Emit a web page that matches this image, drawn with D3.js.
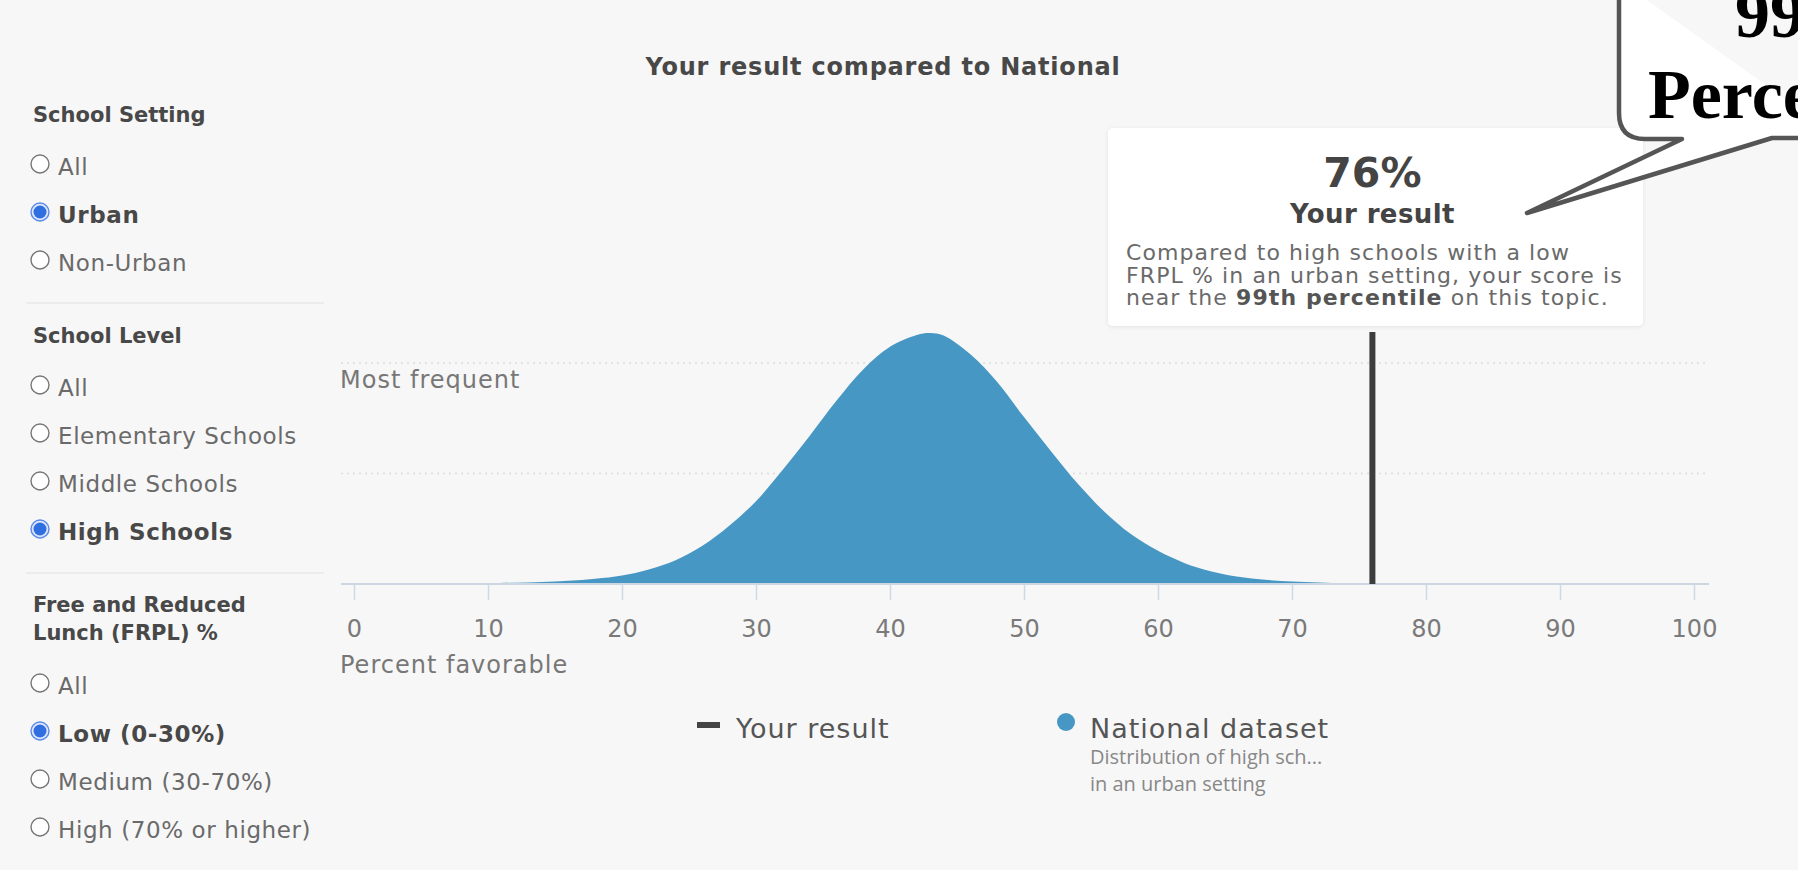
<!DOCTYPE html>
<html>
<head>
<meta charset="utf-8">
<script src="https://cdnjs.cloudflare.com/ajax/libs/d3/7.8.5/d3.min.js"></script>
<style>
  body { margin: 0; background: #f7f7f7; }
</style>
</head>
<body>
<div id="chart"></div>
<script>
// filter panel options
const settingOptions = ["All", "Urban", "Non-Urban"];
const levelOptions = ["All", "Elementary Schools", "Middle Schools", "High Schools"];
const frplOptions = ["All", "Low (0-30%)", "Medium (30-70%)", "High (70% or higher)"];
const selectedOptions = ["Urban", "High Schools", "Low (0-30%)"];

// national distribution (relative frequency)
const percentFavorable = [0, 5, 10, 12, 14, 16, 18, 20, 22, 24, 26, 28, 30, 32, 34, 36, 38, 40, 42, 43, 44, 46, 48, 50, 52, 54, 56, 58, 60, 62, 64, 66, 68, 70, 72, 74, 76, 80, 85, 90, 100];
const frequency = [0, 0.001, 0.003, 0.005, 0.008, 0.013, 0.021, 0.034, 0.058, 0.095, 0.152, 0.232, 0.33, 0.455, 0.59, 0.73, 0.855, 0.945, 0.992, 1, 0.99, 0.915, 0.805, 0.665, 0.53, 0.4, 0.288, 0.198, 0.132, 0.083, 0.05, 0.029, 0.017, 0.01, 0.006, 0.003, 0.0015, 0.0005, 0, 0, 0];

const xTicks = [0, 10, 20, 30, 40, 50, 60, 70, 80, 90, 100];
const gridLevels = [0.44, 0.88];
const yourResult = 76;
const percentileLabel = "99th";

const width = 1798,
  height = 870;

const blue = "#4797c4";
const sans = "DejaVu Sans, sans-serif";
const narrow = "Open Sans, sans-serif";

const svg = d3
  .select("#chart")
  .append("svg")
  .attr("width", width)
  .attr("height", height)
  .attr("font-family", sans);

svg.append("rect").attr("width", width).attr("height", height).attr("fill", "#f7f7f7");

const defs = svg.append("defs");
const shadow = defs.append("filter").attr("id", "shadow").attr("x", "-5%").attr("y", "-10%").attr("width", "110%").attr("height", "120%");
shadow.append("feDropShadow").attr("dx", 0).attr("dy", 1).attr("stdDeviation", 2).attr("flood-color", "#000").attr("flood-opacity", 0.08);

//---------- left filter panel ----------
const panel = svg.append("g");

function drawGroup(headingLines, headingY, options, firstY) {
  headingLines.forEach((line, i) => {
    panel
      .append("text")
      .attr("x", 33)
      .attr("y", headingY + i * 28)
      .attr("font-size", 21)
      .attr("font-weight", 700)
      .attr("fill", "#484848")
      .text(line);
  });

  const rows = panel
    .selectAll(null)
    .data(options)
    .enter()
    .append("g")
    .attr("transform", (d, i) => `translate(0, ${firstY + i * 48})`);

  rows
    .append("circle")
    .attr("cx", 40)
    .attr("cy", -11)
    .attr("r", 9)
    .attr("fill", (d) => (selectedOptions.includes(d) ? "#dfe8fb" : "#fff"))
    .attr("stroke", (d) => (selectedOptions.includes(d) ? "#5c8be6" : "#777"))
    .attr("stroke-width", 1.4);

  rows
    .filter((d) => selectedOptions.includes(d))
    .append("circle")
    .attr("cx", 40)
    .attr("cy", -11)
    .attr("r", 6.5)
    .attr("fill", "#2f6fe0");

  rows
    .append("text")
    .attr("x", 58)
    .attr("y", 0)
    .attr("font-size", 23)
    .attr("letter-spacing", 0.6)
    .attr("font-weight", (d) => (selectedOptions.includes(d) ? 700 : 400))
    .attr("fill", (d) => (selectedOptions.includes(d) ? "#484848" : "#6a6a6a"))
    .text((d) => d);
}

drawGroup(["School Setting"], 122, settingOptions, 175);
drawGroup(["School Level"], 343, levelOptions, 396);
drawGroup(["Free and Reduced", "Lunch (FRPL) %"], 612, frplOptions, 694);

[303, 573].forEach((y) => {
  panel.append("line").attr("x1", 26).attr("x2", 324).attr("y1", y).attr("y2", y).attr("stroke", "#e8e8e8").attr("stroke-width", 1.5);
});

//---------- distribution chart ----------
const x = d3.scaleLinear().domain([0, 100]).range([354, 1694]);
const y = d3.scaleLinear().domain([0, 1]).range([584, 333]);

svg
  .append("text")
  .attr("x", 883)
  .attr("y", 75)
  .attr("text-anchor", "middle")
  .attr("font-size", 24)
  .attr("letter-spacing", 0.8)
  .attr("font-weight", 700)
  .attr("fill", "#484848")
  .text("Your result compared to National");

// dotted guide lines
svg
  .selectAll(".grid")
  .data(gridLevels)
  .enter()
  .append("line")
  .attr("class", "grid")
  .attr("x1", 341)
  .attr("x2", 1709)
  .attr("y1", (d) => y(d))
  .attr("y2", (d) => y(d))
  .attr("stroke", "#dcdcdc")
  .attr("stroke-width", 1.5)
  .attr("stroke-dasharray", "2,4");

svg
  .append("text")
  .attr("x", 340)
  .attr("y", 388)
  .attr("font-size", 24)
  .attr("letter-spacing", 1)
  .attr("fill", "#777")
  .text("Most frequent");

const distData = percentFavorable.map((v, i) => ({ v: v, f: frequency[i] }));

const area = d3
  .area()
  .x((d) => x(d.v))
  .y0(y(0))
  .y1((d) => Math.min(y(0), y(d.f)))
  .curve(d3.curveCatmullRom.alpha(0.5));

svg.append("path").datum(distData).attr("d", area).attr("fill", blue);

// x axis
const xAxis = d3
  .axisBottom(x)
  .tickValues(xTicks)
  .tickSize(16)
  .tickPadding(20)
  .tickFormat(d3.format("d"));

const axisG = svg.append("g").attr("transform", `translate(0, ${y(0)})`).call(xAxis);
axisG.select(".domain").remove();
axisG.selectAll(".tick line").attr("stroke", "#cfd8e3").attr("stroke-width", 1.5);
axisG
  .selectAll(".tick text")
  .attr("font-size", 24)
  .attr("font-family", sans)
  .attr("fill", "#7a7a7a");

svg
  .append("line")
  .attr("x1", 341)
  .attr("x2", 1709)
  .attr("y1", y(0))
  .attr("y2", y(0))
  .attr("stroke", "#cdd7e3")
  .attr("stroke-width", 2);

svg
  .append("text")
  .attr("x", 340)
  .attr("y", 673)
  .attr("font-size", 24)
  .attr("letter-spacing", 1)
  .attr("fill", "#777")
  .text("Percent favorable");

// your result marker
svg
  .append("line")
  .attr("x1", x(yourResult))
  .attr("x2", x(yourResult))
  .attr("y1", 332)
  .attr("y2", y(0))
  .attr("stroke", "#3d3d3d")
  .attr("stroke-width", 6);

// result card
const card = svg.append("g");
card
  .append("rect")
  .attr("x", 1108)
  .attr("y", 128)
  .attr("width", 535)
  .attr("height", 198)
  .attr("rx", 5)
  .attr("fill", "#fff")
  .attr("filter", "url(#shadow)");

card
  .append("text")
  .attr("x", x(yourResult))
  .attr("y", 187)
  .attr("text-anchor", "middle")
  .attr("font-size", 41)
  .attr("font-weight", 700)
  .attr("fill", "#444")
  .text(yourResult + "%");

card
  .append("text")
  .attr("x", x(yourResult))
  .attr("y", 223)
  .attr("text-anchor", "middle")
  .attr("font-size", 26)
  .attr("letter-spacing", 0.4)
  .attr("font-weight", 700)
  .attr("fill", "#444")
  .text("Your result");

const cardLines = [
  [{ t: "Compared to high schools with a low" }],
  [{ t: "FRPL % in an urban setting, your score is" }],
  [{ t: "near the " }, { t: percentileLabel + " percentile", b: true }, { t: " on this topic." }],
];

cardLines.forEach((parts, i) => {
  const t = card
    .append("text")
    .attr("x", 1126)
    .attr("y", 260 + i * 22.5)
    .attr("font-size", 22)
    .attr("letter-spacing", 1.1)
    .attr("fill", "#6a6a6a");
  parts.forEach((p) => {
    t.append("tspan")
      .attr("font-weight", p.b ? 700 : 400)
      .attr("fill", p.b ? "#555" : "#6a6a6a")
      .text(p.t);
  });
});

// legend
const legend = svg.append("g");
legend.append("rect").attr("x", 697).attr("y", 722).attr("width", 23).attr("height", 6).attr("fill", "#444");
legend
  .append("text")
  .attr("x", 736)
  .attr("y", 738)
  .attr("font-size", 27)
  .attr("letter-spacing", 1)
  .attr("fill", "#555")
  .text("Your result");

legend.append("circle").attr("cx", 1066).attr("cy", 722).attr("r", 9).attr("fill", blue);
legend
  .append("text")
  .attr("x", 1090)
  .attr("y", 738)
  .attr("font-size", 27)
  .attr("letter-spacing", 1)
  .attr("fill", "#555")
  .text("National dataset");

["Distribution of high sch...", "in an urban setting"].forEach((line, i) => {
  legend
    .append("text")
    .attr("x", 1090)
    .attr("y", 764 + i * 27)
    .attr("font-family", narrow)
    .attr("font-size", 20)
    .attr("fill", "#888")
    .text(line);
});

//---------- speech bubble callout ----------
const bubble = svg.append("g");
const bubblePath = d3.path();
bubblePath.moveTo(1619, -20);
bubblePath.lineTo(1619, 113);
bubblePath.quadraticCurveTo(1619, 139, 1645, 139);
bubblePath.lineTo(1682, 139);
bubblePath.lineTo(1527, 213);
bubblePath.lineTo(1772, 138);
bubblePath.lineTo(1840, 138);

bubble
  .append("path")
  .attr("d", bubblePath.toString())
  .attr("fill", "#fff")
  .attr("stroke", "#555")
  .attr("stroke-width", 4.5)
  .attr("stroke-linejoin", "round");

[
  { t: percentileLabel, x: 1735, y: 37 },
  { t: "Percentile", x: 1648, y: 118 },
].forEach((d) => {
  bubble
    .append("text")
    .attr("x", d.x)
    .attr("y", d.y)
    .attr("font-family", "Liberation Serif, serif")
    .attr("font-size", 70)
    .attr("font-weight", 700)
    .attr("fill", "#000")
    .text(d.t);
});
</script>
</body>
</html>
